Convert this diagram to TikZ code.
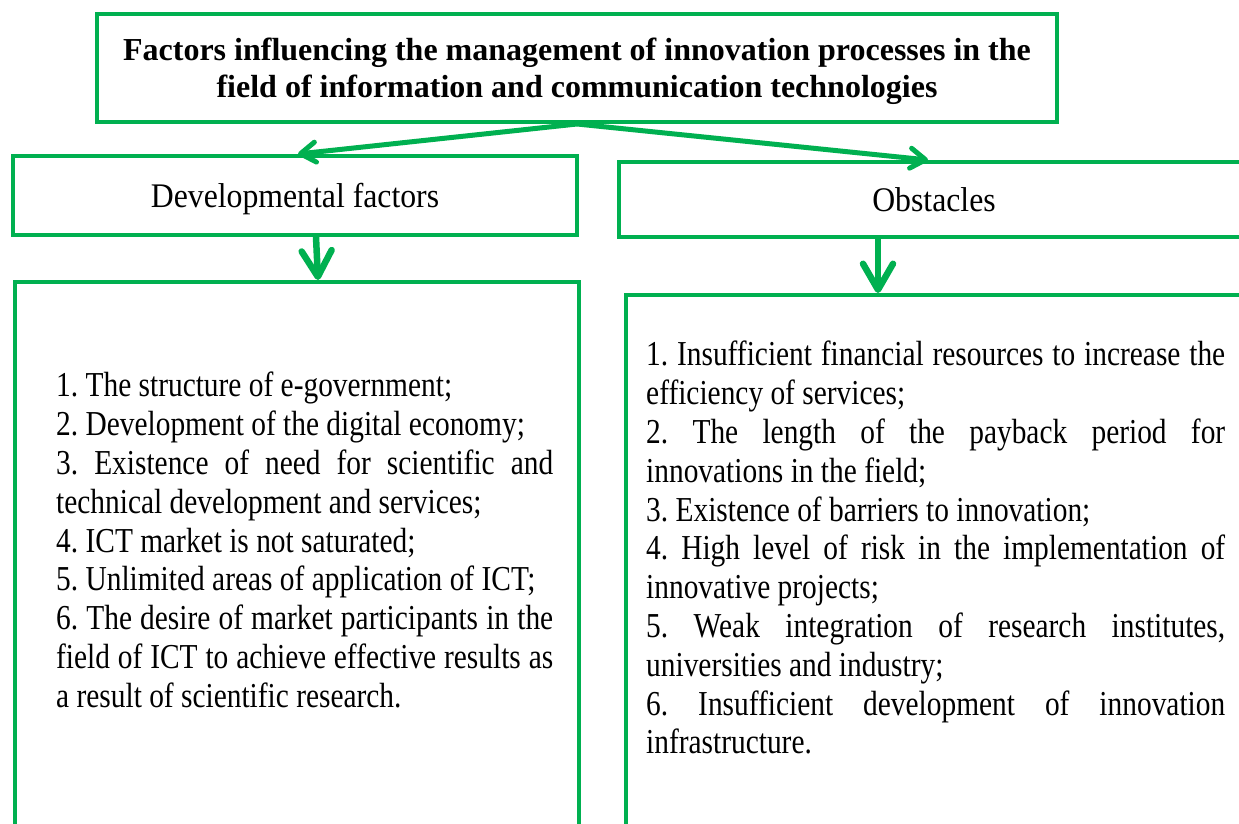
\documentclass[tikz,border=0pt]{standalone}
\usepackage{fontspec}
\setmainfont{Liberation Serif}
\newfontfamily\listfont{Liberation Serif}[FakeStretch=0.84]
\newfontfamily\headfont{Liberation Serif}[FakeStretch=0.92]
\usetikzlibrary{arrows.meta}
\definecolor{ictgreen}{HTML}{00B050}
\frenchspacing

\begin{document}
\begin{tikzpicture} [x=1pt, y=-1pt,
	box/.style = {draw=ictgreen, line width=4pt, inner sep=0pt},
	head/.style = {box, text depth=0pt, font=\headfont\fontsize{34.5}{38}\selectfont},
	item/.style = {anchor=north west, inner sep=0pt, align=justify, font=\listfont\fontsize{35}{38.8}\selectfont},
	slant/.style = {draw=ictgreen, line width=5pt, -{Straight Barb[length=15pt,width=20pt,round]}},
	down/.style = {draw=ictgreen, line width=6.5pt, -{Straight Barb[length=26pt,width=30pt,round]}}]
\def\leftw{497}
\def\rightw{579}
\useasboundingbox (0,0) rectangle (1239,824);
% headings
\node[box, minimum width=960, minimum height=108, align=center, text depth=-3pt, font=\bfseries\fontsize{32}{37}\selectfont] (title) at (577,68)
	{Factors influencing the management of innovation processes in the\\ field of information and communication technologies};
\node[head, minimum width=564, minimum height=79] (dev) at (295,195.5) {Developmental factors};
\node[head, minimum width=630, minimum height=75] (obst) at (934,199.5) {Obstacles};
% list frames
\node[box, anchor=north west, minimum width=564, minimum height=600] (devbox) at (13,280) {};
\node[box, anchor=north west, minimum width=700, minimum height=600] (obsbox) at (624,293) {};
% lists
\node[item, text width=\leftw] (devlist) at (56,372) {%
1. The structure of e-government;\par
2. Development of the digital economy;\par
3. Existence of need for scientific and \linebreak technical development and services;\par
4. ICT market is not saturated;\par
5. Unlimited areas of application of ICT;\par
6. The desire of market participants in the \linebreak field of ICT to achieve effective results as \linebreak a result of scientific research.};
\node[item, text width=\rightw] (obslist) at (646,341) {%
1. Insufficient financial resources to increase the \linebreak efficiency of services;\par
2. The length of the payback period for \linebreak innovations in the field;\par
3. Existence of barriers to innovation;\par
4. High level of risk in the implementation of \linebreak innovative projects;\par
5. Weak integration of research institutes, \linebreak universities and industry;\par
6. Insufficient development of innovation \linebreak infrastructure.};
% connectors
\draw[slant] (title.south) -- ([xshift=3]dev.north);
\draw[slant] (title.south) -- ([xshift=-6]obst.north);
\draw[down] ([xshift=21]dev.south) -- ([xshift=21]devbox.north);
\draw[down] ([xshift=-56]obst.south) -- ([xshift=-56]obst.south |- obsbox.north);
\end{tikzpicture}
\end{document}
